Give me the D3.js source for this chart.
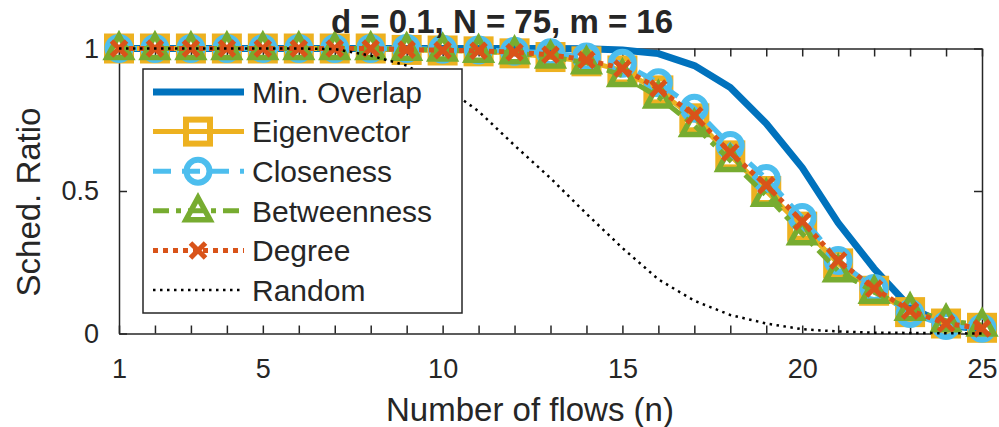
<!DOCTYPE html>
<html>
<head>
<meta charset="utf-8">
<script src="https://cdn.jsdelivr.net/npm/d3@7"></script>
<style>
  body { margin: 0; background: #fff; }
  svg text { font-family: "Liberation Sans", Arial, Helvetica, sans-serif; fill: #262626; }
</style>
</head>
<body>
<div id="chart"></div>
<script>
// values
var flows = d3.range(1, 26);
var minOverlap  = [1,1,1,1,1,1,1,1,1,1,1,1,1,0.999,0.995,0.982,0.94,0.863,0.737,0.582,0.388,0.228,0.092,0.03,0.015];
var eigenvector = [1,1,1,1,1,1,1,1,0.995,0.993,0.99,0.983,0.97,0.955,0.923,0.853,0.755,0.625,0.5,0.375,0.246,0.15,0.075,0.035,0.02];
var closeness   = [1,1,1,1,1,1,1,1,1,0.997,0.995,0.99,0.985,0.97,0.948,0.88,0.79,0.66,0.544,0.407,0.256,0.158,0.07,0.028,0.018];
var betweenness = [1,1,1,1,1,1,1,1,0.997,0.995,0.99,0.985,0.97,0.95,0.905,0.83,0.73,0.607,0.485,0.35,0.22,0.145,0.085,0.045,0.03];
var degree      = [1,1,1,1,1,1,1,1,0.996,0.994,0.992,0.987,0.978,0.96,0.93,0.86,0.765,0.635,0.52,0.393,0.256,0.158,0.08,0.035,0.018];
var random      = [1,1,1,1,1,1,0.998,0.975,0.94,0.87,0.78,0.66,0.545,0.42,0.3,0.19,0.115,0.065,0.035,0.015,0.007,0.003,0.002,0.001,0];
var xLabels = [1, 5, 10, 15, 20, 25];
var yTicks = [0, 0.5, 1];

var series = [
  {name: "Min. Overlap", values: minOverlap,  color: "#0072BD", width: 7, dash: null, marker: null},
  {name: "Eigenvector",  values: eigenvector, color: "#EDB120", width: 5, dash: null, marker: "square"},
  {name: "Closeness",    values: closeness,   color: "#4DBEEE", width: 5, dash: "18,11", marker: "circle"},
  {name: "Betweenness",  values: betweenness, color: "#77AC30", width: 5, dash: "16,7,5,7", marker: "triangle"},
  {name: "Degree",       values: degree,      color: "#D95319", width: 5, dash: "5,5", marker: "cross"},
  {name: "Random",       values: random,      color: "#000000", width: 2.5, dash: "2.5,4.5", marker: null}
];

var w = 999, h = 427;
var padL = 119, padR = 982, padT = 48.5, padB = 333.5;

var svg = d3.select("#chart").append("svg")
    .attr("width", w).attr("height", h);

var x = d3.scaleLinear().domain([1, 25]).range([padL, padR]);
var y = d3.scaleLinear().domain([0, 1]).range([padB, padT]);

// axes (drawn below the data)
var axisColor = "#262626";
function styleAxis(g) {
  g.select(".domain").attr("stroke", axisColor).attr("stroke-width", 1.5);
  g.selectAll(".tick line").attr("stroke", axisColor).attr("stroke-width", 1.5);
  g.selectAll(".tick text").style("font-size", "27px").attr("fill", axisColor);
}

svg.append("g").attr("transform", "translate(0," + padB + ")")
   .call(d3.axisBottom(x).tickValues(flows).tickSize(-8).tickSizeOuter(0).tickPadding(25)
        .tickFormat(function(d) { return xLabels.indexOf(d) >= 0 ? d : ""; }))
   .call(styleAxis);
svg.append("g").attr("transform", "translate(0," + padT + ")")
   .call(d3.axisTop(x).tickValues(flows).tickSize(-8).tickSizeOuter(0).tickFormat(""))
   .call(styleAxis);
svg.append("g").attr("transform", "translate(" + padL + ",0)")
   .call(d3.axisLeft(y).tickValues(yTicks).tickSize(-8).tickSizeOuter(0).tickPadding(20)
        .tickFormat(d3.format("")))
   .call(styleAxis);
svg.append("g").attr("transform", "translate(" + padR + ",0)")
   .call(d3.axisRight(y).tickValues(yTicks).tickSize(-8).tickSizeOuter(0).tickFormat(""))
   .call(styleAxis);

// markers
function drawMarker(g, type, color, cx, cy) {
  if (type === "square") {
    g.append("rect").attr("x", cx - 12).attr("y", cy - 12).attr("width", 24).attr("height", 24)
     .attr("fill", "none").attr("stroke", color).attr("stroke-width", 6);
  } else if (type === "circle") {
    g.append("circle").attr("cx", cx).attr("cy", cy).attr("r", 11.5)
     .attr("fill", "none").attr("stroke", color).attr("stroke-width", 6);
  } else if (type === "triangle") {
    g.append("path")
     .attr("d", "M" + cx + "," + (cy - 13) + "L" + (cx + 12) + "," + (cy + 9) + "L" + (cx - 12) + "," + (cy + 9) + "Z")
     .attr("fill", "none").attr("stroke", color).attr("stroke-width", 5.5).attr("stroke-linejoin", "miter");
  } else if (type === "cross") {
    g.append("path")
     .attr("d", "M" + (cx - 7.5) + "," + (cy - 7.5) + "L" + (cx + 7.5) + "," + (cy + 7.5) +
                "M" + (cx + 7.5) + "," + (cy - 7.5) + "L" + (cx - 7.5) + "," + (cy + 7.5))
     .attr("stroke", color).attr("stroke-width", 5);
  }
}

var line = d3.line()
    .x(function(d, i) { return x(flows[i]); })
    .y(function(d) { return y(d); });

series.forEach(function(s) {
  var g = svg.append("g");
  g.append("path").datum(s.values)
   .attr("d", line)
   .attr("fill", "none")
   .attr("stroke", s.color)
   .attr("stroke-width", s.width)
   .attr("stroke-dasharray", s.dash)
   .attr("stroke-linejoin", "round");
  if (s.marker) {
    s.values.forEach(function(v, i) { drawMarker(g, s.marker, s.color, x(flows[i]), y(v)); });
  }
});

// title and labels
svg.append("text").attr("x", 502).attr("y", 33)
   .attr("text-anchor", "middle").style("font-size", "33px").style("font-weight", "bold")
   .attr("fill", "#000").text("d = 0.1, N = 75, m = 16");
svg.append("text").attr("x", 530).attr("y", 421)
   .attr("text-anchor", "middle").style("font-size", "33px")
   .text("Number of flows (n)");
svg.append("text").attr("transform", "translate(40,202) rotate(-90)")
   .attr("text-anchor", "middle").style("font-size", "33px")
   .text("Sched. Ratio");

// legend
var lg = svg.append("g");
lg.append("rect").attr("x", 143).attr("y", 69).attr("width", 319).attr("height", 244)
  .attr("fill", "#fff").attr("stroke", axisColor).attr("stroke-width", 1.5);
var rowY = d3.scaleLinear().domain([0, 5]).range([92, 290]);
series.forEach(function(s, i) {
  var yy = rowY(i);
  lg.append("line").attr("x1", 153).attr("x2", 244).attr("y1", yy).attr("y2", yy)
    .attr("stroke", s.color).attr("stroke-width", s.width)
    .attr("stroke-dasharray", s.dash);
  if (s.marker) drawMarker(lg, s.marker, s.color, 198, yy);
  lg.append("text").attr("x", 252).attr("y", yy).attr("dy", "0.36em")
    .style("font-size", "30px").attr("fill", "#000").text(s.name);
});
</script>
</body>
</html>
